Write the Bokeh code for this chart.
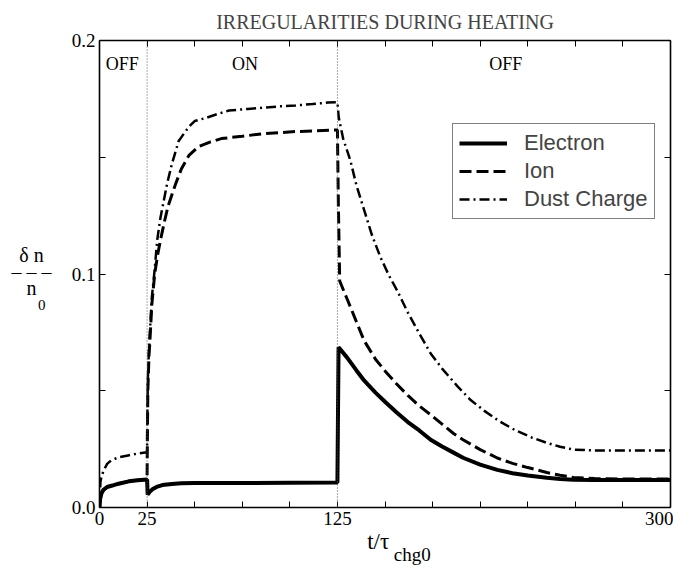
from bokeh.plotting import figure
from bokeh.models import (Range1d, LinearAxis, FixedTicker, Span, Label, Legend,
                          LegendItem, PrintfTickFormatter)
from bokeh.embed import file_html
from bokeh.resources import INLINE
from bokeh.core.properties import value

# ---------------- data ----------------
t_electron = [0, 0.3, 1, 2, 4, 6.7, 10, 15.4, 20, 25, 25.3, 26.5, 28, 30, 33, 38, 43, 50, 60,
              80, 100, 125, 125.6, 130, 135, 139, 145, 150, 156, 162, 168, 174, 180, 186, 191,
              200, 209, 217, 225, 235, 242, 249, 260, 275, 300]
electron = [0, 0.0035, 0.006, 0.0075, 0.0088, 0.0094, 0.0102, 0.0112, 0.0117, 0.012, 0.0055,
            0.0068, 0.0079, 0.0088, 0.0096, 0.0101, 0.0104, 0.0105, 0.0105, 0.0105, 0.0106,
            0.0107, 0.0686, 0.0643, 0.0587, 0.0544, 0.0492, 0.0453, 0.0408, 0.0366, 0.0330,
            0.0290, 0.0261, 0.0235, 0.0213, 0.0184, 0.0161, 0.0147, 0.0137, 0.0127, 0.0122,
            0.0119, 0.0118, 0.0118, 0.0118]

t_ion = [0, 0.3, 1, 2, 4, 6.7, 10, 15.4, 20, 25, 25.15, 25.4, 26, 26.5, 27.5, 29, 30.5, 32, 34,
         36, 40, 43, 47, 52, 58, 64, 75, 85, 103, 125, 125.5, 126.2, 130, 135, 139, 145, 150,
         156, 162, 168, 174, 180, 186, 191, 200, 209, 217, 225, 235, 242, 249, 260, 275, 300]
ion = [0, 0.0035, 0.006, 0.0075, 0.0088, 0.0094, 0.0102, 0.0112, 0.0117, 0.012, 0.03, 0.05,
       0.065, 0.0715, 0.087, 0.1, 0.108, 0.1144, 0.122, 0.129, 0.1386, 0.145, 0.1508, 0.1545,
       0.1565, 0.158, 0.159, 0.160, 0.161, 0.1617, 0.130, 0.097, 0.0895, 0.0795, 0.0715,
       0.0635, 0.0585, 0.0530, 0.0480, 0.0435, 0.0397, 0.0357, 0.0317, 0.0290, 0.0248,
       0.0212, 0.0189, 0.0171, 0.0150, 0.0138, 0.0129, 0.0124, 0.0122, 0.0122]

t_dust = [0, 0.2, 0.5, 1, 2, 4, 6, 10, 15, 20, 25, 25.15, 25.4, 26, 26.4, 27.5, 29, 30.3, 32,
          35.5, 38, 41.6, 46.9, 50, 55.7, 62, 68, 78, 85.5, 95, 103, 112, 120, 125, 125.7, 128,
          131.8, 135, 138.8, 143, 147.6, 152, 156.4, 162, 168, 174, 180, 188, 195, 202, 210,
          218, 227, 235, 242, 249, 260, 275, 300]
dust = [0, 0.006, 0.011, 0.013, 0.0155, 0.0187, 0.0201, 0.0215, 0.0223, 0.0231, 0.0237, 0.04,
        0.055, 0.068, 0.074, 0.09, 0.102, 0.1144, 0.124, 0.1386, 0.147, 0.157, 0.163, 0.1655,
        0.1668, 0.1685, 0.170, 0.1707, 0.1712, 0.1718, 0.1722, 0.1728, 0.1734, 0.1736, 0.167,
        0.158, 0.1486, 0.138, 0.128, 0.117, 0.1072, 0.0995, 0.0929, 0.0835, 0.0745, 0.066,
        0.0595, 0.052, 0.046, 0.0415, 0.037, 0.0333, 0.030, 0.0277, 0.026, 0.0248, 0.0244,
        0.0244, 0.0244]

x_major_ticks = [0, 25, 125, 300]
x_minor_ticks = [50, 75, 100, 150, 175, 200, 225, 250, 275]
y_major_ticks = [0.0, 0.1, 0.2]
y_minor_ticks = [0.05, 0.15]
switch_times = [25, 125]
phase_labels = ["OFF", "ON", "OFF"]
phase_centers = [12, 76.5, 213.5]
phase_y = [0.19, 0.19, 0.19]

SERIF = "Liberation Serif"
SANS = "Liberation Sans"

p = figure(width=673, height=567, output_backend="svg", toolbar_location=None,
           x_range=Range1d(0, 300), y_range=Range1d(0, 0.2),
           x_axis_type=None, y_axis_type=None,
           min_border_left=99, min_border_right=3, min_border_top=40, min_border_bottom=60,
           outline_line_color=None)
p.xgrid.visible = False
p.ygrid.visible = False

p.title.text = "IRREGULARITIES DURING HEATING"
p.title.align = "center"
p.title.text_font = SERIF
p.title.text_font_size = "20px"
p.title.text_font_style = "normal"
p.title.standoff = 15
p.title.offset = 0


def make_axis(ticks, minor, show_labels, fmt=None):
    ax = LinearAxis(ticker=FixedTicker(ticks=ticks, minor_ticks=minor))
    ax.major_tick_in = 6
    ax.major_tick_out = 0
    ax.minor_tick_in = 6
    ax.minor_tick_out = 0
    ax.axis_line_width = 1.6
    ax.major_tick_line_width = 1
    ax.minor_tick_line_width = 1
    ax.major_label_text_font = SERIF
    ax.major_label_text_color = "black"
    if fmt is not None:
        ax.formatter = fmt
    if show_labels:
        ax.major_label_text_font_size = "19px"
        ax.major_label_standoff = 4
    else:
        ax.major_label_text_font_size = "1px"
        ax.major_label_overrides = {t: "" for t in ticks}
        ax.major_label_standoff = 0
    return ax


p.add_layout(make_axis(x_major_ticks, x_minor_ticks, True), "below")
p.add_layout(make_axis(y_major_ticks, y_minor_ticks, True, PrintfTickFormatter(format="%.1f")), "left")
p.add_layout(make_axis(x_major_ticks, x_minor_ticks, False), "above")
p.add_layout(make_axis(y_major_ticks, y_minor_ticks, False), "right")

for s in switch_times:
    p.add_layout(Span(location=s, dimension="height", line_color="#555555",
                      line_width=1, line_dash="1 2"))

p.text(x=phase_centers, y=phase_y, text=phase_labels, text_align="center",
       text_baseline="middle", text_font=value(SERIF), text_font_size="18px",
       text_color="black")

r_e = p.line(t_electron, electron, line_color="black", line_width=4)
r_i = p.line(t_ion, ion, line_color="black", line_width=3, line_dash="12 5")
r_d = p.line(t_dust, dust, line_color="black", line_width=2.5, line_dash="10 4 2 4")

legend = Legend(items=[LegendItem(label="Electron", renderers=[r_e]),
                       LegendItem(label="Ion", renderers=[r_i]),
                       LegendItem(label="Dust Charge", renderers=[r_d])],
                location=(353, 288))
legend.label_text_font = SANS
legend.label_text_font_size = "22px"
legend.glyph_width = 48
legend.glyph_height = 20
legend.label_height = 20
legend.label_standoff = 17
legend.padding = 6
legend.spacing = 2
legend.margin = 0
legend.border_line_color = "black"
legend.border_line_width = 1.5
legend.background_fill_alpha = 1
p.add_layout(legend)

# axis titles, placed in canvas pixels; hosted in side panels so they are not clipped
title_parts = [
    # text, x, y, size, align, baseline, line height, panel
    ("δ n\n– – –\nn", 31, 271, "20px", "center", "middle", 0.75, "left"),
    ("0", 37.5, 304.5, "15px", "left", "alphabetic", 0.6, "below"),
    ("t/τ", 366.7, 540.5, "23px", "left", "alphabetic", 1.0, "left"),
    ("chg0", 393.3, 554, "19px", "left", "alphabetic", 1.0, "below"),
]
for txt, x, y, size, align, base, lh, side in title_parts:
    p.add_layout(Label(x=x, y=y, x_units="canvas", y_units="canvas", text=txt,
                       text_font=SERIF, text_font_size=size, text_align=align,
                       text_baseline=base, text_line_height=lh, text_color="black"), side)

open("out.html", "w").write(file_html(p, INLINE))
